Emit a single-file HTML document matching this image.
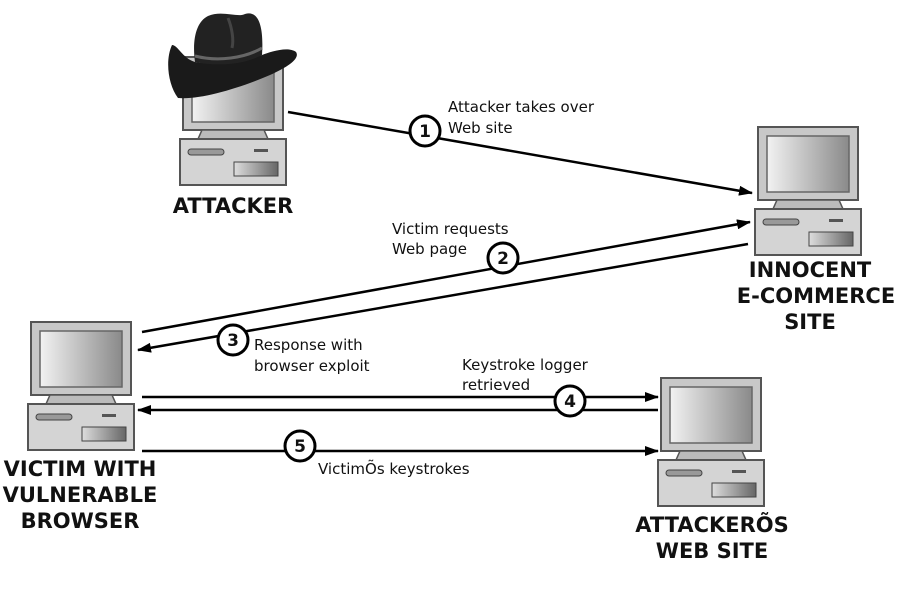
<!DOCTYPE html>
<html><head><meta charset="utf-8"><style>
html,body{margin:0;padding:0;background:#fff;}
svg{display:block}
.t{font-family:"DejaVu Sans","Liberation Sans",sans-serif;font-size:15px;fill:#111}
.b{font-family:"DejaVu Sans","Liberation Sans",sans-serif;font-size:21px;font-weight:bold;fill:#111;text-anchor:middle}
.n{font-family:"DejaVu Sans","Liberation Sans",sans-serif;font-size:17px;font-weight:bold;fill:#111;text-anchor:middle}
</style></head><body>
<svg width="911" height="599" viewBox="0 0 911 599" xmlns="http://www.w3.org/2000/svg">
<defs>
<linearGradient id="sg" x1="0" x2="1" y1="0" y2="0"><stop offset="0" stop-color="#f2f2f2"/><stop offset="1" stop-color="#8a8a8a"/></linearGradient>
<linearGradient id="dg" x1="0" x2="1"><stop offset="0" stop-color="#ddd"/><stop offset="1" stop-color="#666"/></linearGradient>
<marker id="ah" markerWidth="14" markerHeight="10" refX="13" refY="5" orient="auto" markerUnits="userSpaceOnUse"><path d="M0,0 L14,5 L0,10 Z" fill="#000"/></marker>
<g id="pc">
<rect x="3" y="0" width="100" height="73" fill="#c8c8c8" stroke="#555" stroke-width="2"/>
<rect x="12" y="9" width="82" height="56" fill="url(#sg)" stroke="#666" stroke-width="1.5"/>
<path d="M22,73 L84,73 L88,82 L18,82 Z" fill="#bbb" stroke="#555" stroke-width="1.5"/>
<rect x="0" y="82" width="106" height="46" fill="#d4d4d4" stroke="#555" stroke-width="2"/>
<rect x="8" y="92" width="36" height="6" rx="3" fill="#999" stroke="#444"/>
<rect x="74" y="92" width="14" height="3" fill="#555"/>
<rect x="54" y="105" width="44" height="14" fill="url(#dg)" stroke="#444"/>
</g>
</defs>
<use href="#pc" x="180" y="57"/>
<use href="#pc" x="755" y="127"/>
<use href="#pc" x="28" y="322"/>
<use href="#pc" x="658" y="378"/>
<!-- hat brim -->
<path d="M172,45 C165,60 168,85 178,98 C200,100 240,88 270,75 C290,66 300,58 296,52 C288,46 270,52 262,55 C245,62 220,66 195,62 C182,58 178,45 172,45 Z" fill="#1a1a1a"/>
<!-- crown -->
<path d="M195,62 C192,40 196,22 208,16 C222,10 238,18 245,14 C258,10 264,25 262,55 C245,64 220,67 195,62 Z" fill="#222"/>
<path d="M195,56 C218,62 245,58 262,48" stroke="#666" stroke-width="3" fill="none"/>
<path d="M228,18 C232,28 234,40 232,48" stroke="#444" stroke-width="3" fill="none"/>
<g stroke="#000" stroke-width="2.5" fill="none" marker-end="url(#ah)">
<line x1="288" y1="112" x2="752" y2="193"/>
<line x1="142" y1="332" x2="750" y2="222"/>
<line x1="748" y1="244" x2="138" y2="350"/>
<line x1="142" y1="397" x2="658" y2="397"/>
<line x1="658" y1="410" x2="138" y2="410"/>
<line x1="142" y1="451" x2="658" y2="451"/>
</g>
<g fill="#fff" stroke="#000" stroke-width="3">
<circle cx="425" cy="131" r="15"/><circle cx="503" cy="258" r="15"/><circle cx="233" cy="340" r="15"/>
<circle cx="570" cy="401" r="15"/><circle cx="300" cy="446" r="15"/>
</g>
<text class="n" x="425" y="137">1</text><text class="n" x="503" y="264">2</text><text class="n" x="233" y="346">3</text>
<text class="n" x="570" y="407">4</text><text class="n" x="300" y="452">5</text>
<text class="t" x="448" y="112">Attacker takes over</text><text class="t" x="448" y="133">Web site</text>
<text class="t" x="392" y="234">Victim requests</text><text class="t" x="392" y="254">Web page</text>
<text class="t" x="254" y="350">Response with</text><text class="t" x="254" y="371">browser exploit</text>
<text class="t" x="462" y="370">Keystroke logger</text><text class="t" x="462" y="390">retrieved</text>
<text class="t" x="318" y="474">VictimÕs keystrokes</text>
<text class="b" x="233" y="213">ATTACKER</text>
<text class="b" x="810" y="277">INNOCENT</text><text class="b" x="816" y="303">E-COMMERCE</text><text class="b" x="810" y="329">SITE</text>
<text class="b" x="80" y="476">VICTIM WITH</text><text class="b" x="80" y="502">VULNERABLE</text><text class="b" x="80" y="528">BROWSER</text>
<text class="b" x="712" y="532">ATTACKERÕS</text><text class="b" x="712" y="558">WEB SITE</text>
</svg>
</body></html>
